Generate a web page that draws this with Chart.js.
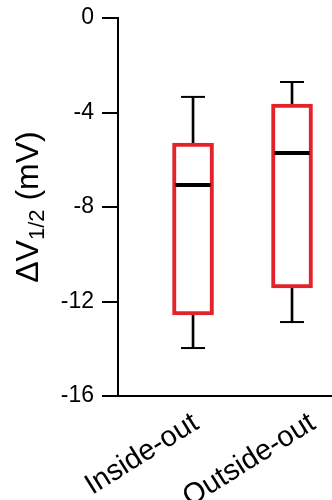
<!DOCTYPE html>
<html>
<head>
<meta charset="utf-8">
<script src="https://cdn.jsdelivr.net/npm/chart.js@4/dist/chart.umd.min.js"></script>
<style>
  html, body { margin: 0; padding: 0; background: #fff; }
  #wrap { width: 332px; height: 500px; }
</style>
</head>
<body>
<div id="wrap"><canvas id="chart"></canvas></div>
<script>
// Box plot values (mV)
const categories = ["Inside-out", "Outside-out"];
const xPos = [1, 2];
const q1 = [-12.57, -11.43];
const q3 = [-5.29, -3.64];
const medians = [-7.07, -5.71];
const mins = [-13.97, -12.87];
const maxs = [-3.34, -2.71];

// where each rotated label ends, relative to its box (x units)
const labelNudge = [0.03, 0.21];

const FONT = "'Liberation Sans', Arial, Helvetica, sans-serif";
const RED = "#e3222a";

// y-axis title with subscript
const yTitle = {
  id: "yTitle",
  afterDraw(chart) {
    const ctx = chart.ctx;
    const area = chart.chartArea;
    const cy = (area.top + area.bottom) / 2;
    const big = "32px " + FONT;
    const small = "22px " + FONT;
    const parts = [["\u0394V", big, 0], ["1/2", small, 6], [" (mV)", big, 0]];
    let total = 0;
    parts.forEach(p => { ctx.font = p[1]; total += ctx.measureText(p[0]).width; });
    ctx.save();
    ctx.translate(38, cy);
    ctx.rotate(-Math.PI / 2);
    ctx.fillStyle = "#000";
    ctx.textBaseline = "alphabetic";
    ctx.textAlign = "left";
    let x = -total / 2;
    parts.forEach(p => {
      ctx.font = p[1];
      ctx.fillText(p[0], x, p[2]);
      x += ctx.measureText(p[0]).width;
    });
    ctx.restore();
  }
};

new Chart(document.getElementById("chart"), {
  type: "bar",
  data: {
    datasets: [
      {
        type: "line",
        label: "median",
        data: xPos.map((x, i) => ({ x: x, y: medians[i] })),
        showLine: false,
        pointStyle: "line",
        pointRadius: 17.5,
        pointBorderWidth: 4,
        pointBorderColor: "#000",
        order: 0
      },
      {
        type: "line",
        label: "caps",
        data: xPos.map((x, i) => ({ x: x, y: maxs[i] }))
          .concat(xPos.map((x, i) => ({ x: x, y: mins[i] }))),
        showLine: false,
        pointStyle: "line",
        pointRadius: 12,
        pointBorderWidth: 2,
        pointBorderColor: "#000",
        order: 1
      },
      {
        label: "box",
        data: xPos.map((x, i) => ({ x: x, y: [q1[i], q3[i]] })),
        backgroundColor: "#fff",
        borderColor: RED,
        borderWidth: 4,
        borderSkipped: false,
        barThickness: 41,
        grouped: false,
        order: 2
      },
      {
        label: "whisker",
        data: xPos.map((x, i) => ({ x: x, y: [mins[i], maxs[i]] })),
        backgroundColor: "#000",
        borderWidth: 0,
        barThickness: 2,
        grouped: false,
        order: 3
      }
    ]
  },
  options: {
    responsive: true,
    maintainAspectRatio: false,
    animation: false,
    events: [],
    layout: { autoPadding: false, padding: { top: 18, right: 0, bottom: 0, left: 0 } },
    plugins: {
      legend: { display: false },
      tooltip: { enabled: false }
    },
    scales: {
      x: {
        type: "linear",
        offset: false,
        bounds: "data",
        min: 0.242,
        max: 2.404,
        afterBuildTicks: axis => { axis.ticks = xPos.map((v, i) => ({ value: v + labelNudge[i] })); },
        afterFit: axis => { axis.height = 104; axis.paddingLeft = 0; axis.paddingRight = 0; },
        grid: { display: false, drawTicks: false, offset: false },
        border: { display: true, color: "#000", width: 2 },
        ticks: {
          minRotation: 32,
          maxRotation: 32,
          padding: 10,
          color: "#000",
          font: { family: FONT, size: 29 },
          callback: v => categories[Math.round(v) - 1] || ""
        }
      },
      y: {
        min: -16,
        max: 0,
        afterFit: axis => { axis.width = 118; axis.paddingTop = 0; axis.paddingBottom = 0; },
        grid: { drawOnChartArea: false, drawTicks: true, tickLength: 16, color: "#000", lineWidth: 2 },
        border: { display: true, color: "#000", width: 2 },
        ticks: {
          stepSize: 4,
          padding: 8,
          color: "#000",
          font: { family: FONT, size: 23 }
        }
      }
    }
  },
  plugins: [yTitle]
});
</script>
</body>
</html>
